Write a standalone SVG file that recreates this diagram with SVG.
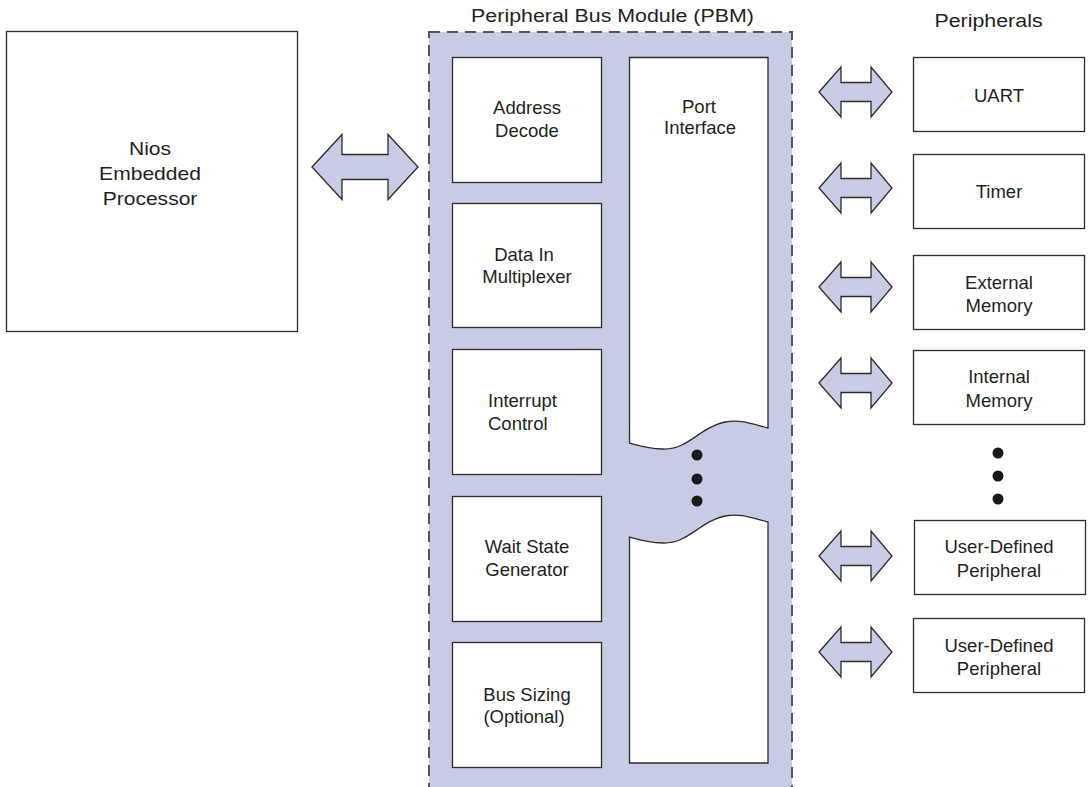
<svg xmlns="http://www.w3.org/2000/svg" xmlns:xlink="http://www.w3.org/1999/xlink" width="1092" height="787" viewBox="0 0 1092 787">
<style>
.box{fill:#fff;stroke:#2b2b2b;stroke-width:1.3}
.t{font-family:"Liberation Sans",Arial,Helvetica,sans-serif;font-size:18.5px;fill:#231f20;text-anchor:middle}
.h{font-size:18.6px}
.arr{fill:#c8cbe4;stroke:#2b2b2b;stroke-width:1.3;stroke-linejoin:miter}
.dot{fill:#1a1a1a}
</style>
<defs>
<path id="sa" d="M819,0 L841,-25 L841,-9.5 L871,-9.5 L871,-25 L892,0 L871,25 L871,9.5 L841,9.5 L841,25 Z"/>
</defs>
<rect width="1092" height="787" fill="#fff"/>

<g id="headers">
<text class="t h" transform="matrix(1.15,0,0,1,612.5,22)">Peripheral Bus Module (PBM)</text>
<text class="t h" transform="matrix(1.15,0,0,1,988.5,27)">Peripherals</text>
</g>

<g id="nios">
<rect class="box" x="6.5" y="31.5" width="291" height="300"/>
<text class="t" style="font-size:18px" transform="matrix(1.17,0,0,1,150,155)"><tspan x="0" y="0">Nios</tspan><tspan x="0" y="25">Embedded</tspan><tspan x="0" y="50">Processor</tspan></text>
</g>

<g id="pbm">
<rect x="429" y="32" width="363" height="756" fill="#c8cbe4" stroke="#555" stroke-width="2" stroke-dasharray="11,7"/>
</g>

<g id="address-decode">
<rect class="box" x="452.5" y="57.5" width="149" height="125"/>
<text class="t"><tspan x="527" y="114">Address</tspan><tspan x="527" y="137">Decode</tspan></text>
</g>
<g id="data-in-mux">
<rect class="box" x="452.5" y="203.5" width="149" height="124"/>
<text class="t"><tspan x="524" y="261">Data In</tspan><tspan x="527" y="283">Multiplexer</tspan></text>
</g>
<g id="interrupt-control">
<rect class="box" x="452.5" y="349.5" width="149" height="125"/>
<text class="t" style="text-anchor:start"><tspan x="488" y="407">Interrupt</tspan><tspan x="488" y="430">Control</tspan></text>
</g>
<g id="wait-state">
<rect class="box" x="452.5" y="496.5" width="149" height="125"/>
<text class="t"><tspan x="527" y="553">Wait State</tspan><tspan x="527" y="576">Generator</tspan></text>
</g>
<g id="bus-sizing">
<rect class="box" x="452.5" y="642.5" width="149" height="125"/>
<text class="t"><tspan x="527" y="701">Bus Sizing</tspan><tspan x="524" y="723">(Optional)</tspan></text>
</g>

<g id="port-interface">
<path class="box" d="M629.5,57.5 H768 V428 C752,424 740,419 725,422 C700,427 688,450 663,449 C650,448.5 640,446 629.5,443 Z"/>
<path class="box" d="M629.5,537 C640,540 650,542.5 663,543 C688,544 700,521 725,516 C740,513 752,518 768,522 V763 H629.5 Z"/>
<text class="t"><tspan x="699" y="113">Port</tspan><tspan x="700" y="134">Interface</tspan></text>
<circle class="dot" cx="697" cy="455" r="5.5"/>
<circle class="dot" cx="697" cy="479" r="5.5"/>
<circle class="dot" cx="697" cy="501" r="5.5"/>
</g>

<g id="uart">
<rect class="box" x="913.5" y="57.5" width="171" height="74"/>
<text class="t" x="999" y="102">UART</text>
</g>
<g id="timer">
<rect class="box" x="913.5" y="154.5" width="171" height="74"/>
<text class="t" x="999" y="198">Timer</text>
</g>
<g id="external-memory">
<rect class="box" x="913.5" y="255.5" width="171" height="74"/>
<text class="t"><tspan x="999" y="289">External</tspan><tspan x="999" y="312">Memory</tspan></text>
</g>
<g id="internal-memory">
<rect class="box" x="913.5" y="350.5" width="171" height="74"/>
<text class="t"><tspan x="999" y="383">Internal</tspan><tspan x="999" y="407">Memory</tspan></text>
</g>
<g id="more-peripherals">
<circle class="dot" cx="998" cy="453" r="5.5"/>
<circle class="dot" cx="998" cy="476" r="5.5"/>
<circle class="dot" cx="998" cy="499" r="5.5"/>
</g>
<g id="user-defined-1">
<rect class="box" x="914.5" y="520.5" width="171" height="74"/>
<text class="t"><tspan x="999" y="553">User-Defined</tspan><tspan x="999" y="577">Peripheral</tspan></text>
</g>
<g id="user-defined-2">
<rect class="box" x="913.5" y="618.5" width="171" height="74"/>
<text class="t"><tspan x="999" y="652">User-Defined</tspan><tspan x="999" y="675">Peripheral</tspan></text>
</g>

<g id="connectors">
<path class="arr" d="M312,167 L342,134.5 L342,154.5 L388,154.5 L388,134.5 L418,167 L388,199.5 L388,179.5 L342,179.5 L342,199.5 Z"/>
<use class="arr" xlink:href="#sa" href="#sa" y="92"/>
<use class="arr" xlink:href="#sa" href="#sa" y="188"/>
<use class="arr" xlink:href="#sa" href="#sa" y="287"/>
<use class="arr" xlink:href="#sa" href="#sa" y="383"/>
<use class="arr" xlink:href="#sa" href="#sa" y="556"/>
<use class="arr" xlink:href="#sa" href="#sa" y="652"/>
</g>
</svg>
